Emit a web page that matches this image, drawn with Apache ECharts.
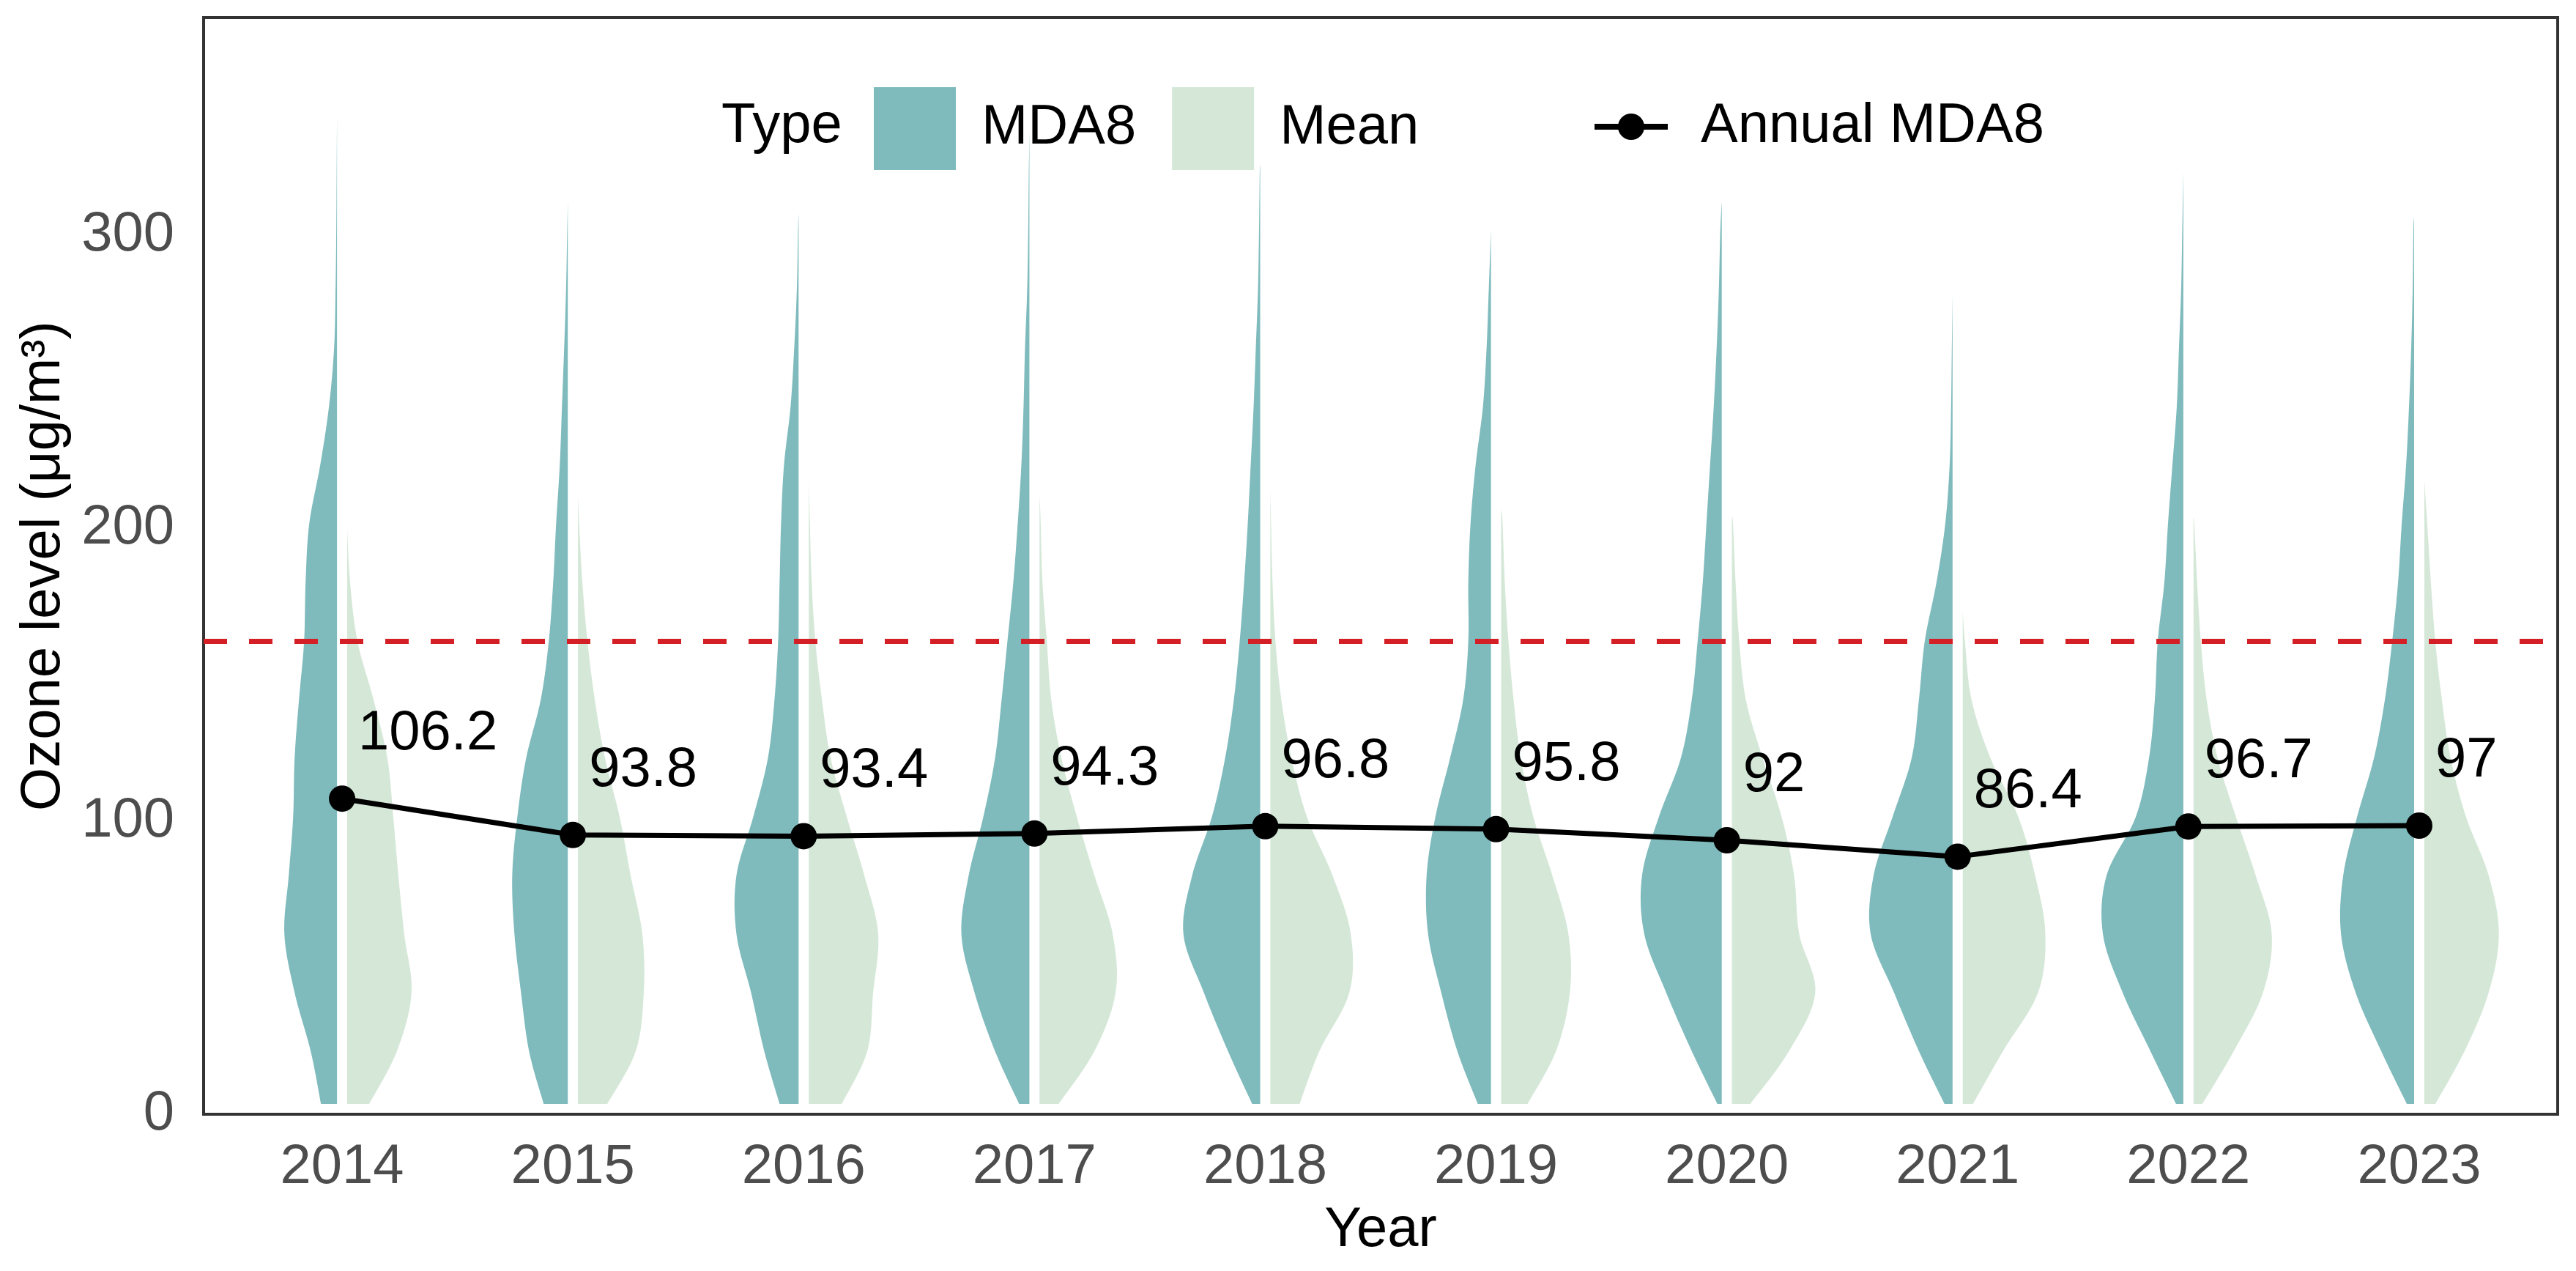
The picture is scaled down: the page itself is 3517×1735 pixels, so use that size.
<!DOCTYPE html>
<html><head><meta charset="utf-8">
<script src="https://cdn.jsdelivr.net/npm/echarts@6/dist/echarts.min.js"></script>
<style>html,body{margin:0;padding:0;background:#fff}#c{width:3517px;height:1735px}</style>
</head><body><div id="c"></div>
<script>
// ---------------- data ----------------
const years = ['2014','2015','2016','2017','2018','2019','2020','2021','2022','2023'];
const annualMDA8 = [106.2, 93.8, 93.4, 94.3, 96.8, 95.8, 92, 86.4, 96.7, 97];
const annualLabels = ['106.2','93.8','93.4','94.3','96.8','95.8','92','86.4','96.7','97'];
const threshold = 160;
const yTicks = [0, 100, 200, 300];
const xTicks = [0,1,2,3,4,5,6,7,8,9];

// ozone levels (µg/m³) at which the violin densities were read
const densityLevels = [2,20,40,60,80,100,120,140,160,180,200,220,240,260,280,300,320,340,360];

// MDA8 density (relative units) per year at densityLevels
const mda8Density = [
  [22,36,58,72,66,60,58,52,45,43,38,23,11,4,2,1,0.5,0.2,0],
  [33,53,64,73,76,69,57,37,26,20,16,11,8,5,2.4,0.8,0,0,0],
  [26,47,65,85,85,62,42,33,28,26,24,20,11,6,2.4,0.8,0,0,0],
  [14,47,75,93,83,63,47,38,30,22,16,11,8,6,3,1.6,0.8,0.3,0],
  [11,44,77,105,93,66,48,36,28,22,17,13,9,6,3,1.6,0.6,0,0],
  [18,46,68,86,88,76,56,38,31,31,28,21,11,6,3,1,0,0,0],
  [6,41,76,106,109,86,56,41,33,26,21,16,11,7,4,2,0.8,0,0],
  [11,46,80,112,108,82,56,46,38,22,10,4,2,1,0,0,0,0,0],
  [10,45,83,110,105,65,47,39,35,26,21,15,9,6,3,1.5,0.5,0,0],
  [10,45,80,100,97,78,55,40,30,22,17,11,7,4,2,1,0,0,0]
];
const mda8Top = [340, 310, 306, 334, 322, 300, 310, 278, 320, 305];

// daily Mean density (relative units) per year at densityLevels
const meanDensity = [
  [30,68,88,78,70,63,55,36,14,4,0.5,0,0,0,0,0,0,0,0],
  [40,79,90,88,72,57,37,23,13,6,1.6,0,0,0,0,0,0,0,0],
  [45,80,88,95,76,52,30,18,9,4,1.5,0,0,0,0,0,0,0,0],
  [26,75,104,100,75,51,30,16,10,4,1.6,0,0,0,0,0,0,0,0],
  [40,67,108,110,85,50,29,15,7,3,1,0,0,0,0,0,0,0,0],
  [36,75,94,92,70,44,27,17,10,5,2,0,0,0,0,0,0,0,0],
  [25,78,114,92,85,68,42,19,10,5,1.5,0,0,0,0,0,0,0,0],
  [14,55,103,113,99,76,38,12,3,0,0,0,0,0,0,0,0,0,0],
  [12,55,95,107,85,58,33,18,10,5,1,0,0,0,0,0,0,0,0],
  [15,55,88,102,88,57,36,24,15,9,4,0,0,0,0,0,0,0,0]
];
const meanTop = [198, 210, 215, 210, 212, 205, 202, 170, 202, 215];

// ---------------- drawing ----------------
const COL_MDA8 = '#7FBBBD';
const COL_MEAN = '#D5E8D8';
const DENS_SCALE = 1 / 315.6;   // density -> category-width units
const GAP = 0.022;              // half gap between the two halves
const FONT = 'Liberation Sans, Arial, Helvetica, sans-serif';

function catmull(pts, steps) {
  const out = [];
  const n = pts.length;
  for (let i = 0; i < n - 1; i++) {
    const p0 = pts[Math.max(0, i - 1)], p1 = pts[i], p2 = pts[i + 1], p3 = pts[Math.min(n - 1, i + 2)];
    for (let s = 0; s < steps; s++) {
      const t = s / steps, t2 = t * t, t3 = t2 * t;
      const f = (a, b, c, d) => 0.5 * ((2 * b) + (-a + c) * t + (2 * a - 5 * b + 4 * c - d) * t2 + (-a + 3 * b - 3 * c + d) * t3);
      out.push([f(p0[0], p1[0], p2[0], p3[0]), f(p0[1], p1[1], p2[1], p3[1])]);
    }
  }
  out.push(pts[n - 1]);
  return out;
}

function makeRender(dens, tops, side, color) {
  return function (params, api) {
    const i = api.value(0);
    const d = dens[i], top = tops[i];
    const raw = [];
    for (let k = 0; k < densityLevels.length; k++) {
      if (densityLevels[k] >= top) break;
      raw.push([densityLevels[k], d[k]]);
    }
    raw.push([top, 0]);
    const edge = raw.map(p => api.coord([i + side * (GAP + p[1] * DENS_SCALE), p[0]]));
    const smooth = catmull(edge, 10);
    const b0 = api.coord([i + side * GAP, densityLevels[0]]);
    const bt = api.coord([i + side * GAP, top]);
    const poly = [b0].concat(smooth).concat([bt]);
    return { type: 'polygon', shape: { points: poly }, style: { fill: color } };
  };
}

const chart = echarts.init(document.getElementById('c'), null, { renderer: 'canvas' });
const idxData = years.map((y, i) => [i]);

chart.setOption({
  animation: false,
  backgroundColor: '#ffffff',
  textStyle: { fontFamily: FONT },
  grid: { left: 278, right: 25, top: 24, bottom: 214, show: true, borderColor: '#333333', borderWidth: 4, containLabel: false },
  graphic: [{
    type: 'text', z: 50,
    style: { text: 'Type', x: 985, y: 173, verticalAlign: 'middle', align: 'left', fill: '#000', font: '76px ' + FONT }
  }],
  legend: [{
    data: ['MDA8', 'Mean'],
    left: 1188, top: 114,
    orient: 'horizontal',
    icon: 'rect',
    itemWidth: 112, itemHeight: 113, itemGap: 49,
    textStyle: { fontSize: 76, color: '#000', padding: [0, 0, 0, 30], fontFamily: FONT },
    selectedMode: false
  }, {
    data: ['Annual MDA8'],
    left: 2168, top: 130,
    itemWidth: 100, itemHeight: 45,
    lineStyle: { width: 8, color: '#000' },
    itemStyle: { color: '#000' },
    textStyle: { fontSize: 76, color: '#000', padding: [0, 0, 0, 40], fontFamily: FONT },
    selectedMode: false
  }],
  xAxis: {
    type: 'value', min: -0.6, max: 9.6,
    axisLine: { show: false }, axisTick: { show: false }, splitLine: { show: false },
    axisLabel: { customValues: xTicks, formatter: v => years[Math.round(v)], fontSize: 76, color: '#4D4D4D', margin: 35, fontFamily: FONT },
    name: 'Year', nameLocation: 'middle', nameGap: 121,
    nameTextStyle: { fontSize: 76, color: '#000', fontFamily: FONT }
  },
  yAxis: {
    type: 'value', min: -1.5, max: 372.75,
    axisLine: { show: false }, axisTick: { show: false }, splitLine: { show: false },
    axisLabel: {
      customValues: yTicks, margin: 40,
      formatter: v => '{t|' + v + '}',
      rich: { t: { fontSize: 76, color: '#4D4D4D', padding: [12, 0, 0, 0], fontFamily: FONT } }
    },
    name: 'Ozone level (μg/m³)', nameLocation: 'middle', nameGap: 180, nameRotate: 90,
    nameTextStyle: { fontSize: 76, color: '#000', fontFamily: FONT }
  },
  series: [
    {
      name: 'MDA8', type: 'custom', z: 2,
      itemStyle: { color: COL_MDA8 },
      renderItem: makeRender(mda8Density, mda8Top, -1, COL_MDA8),
      data: idxData, encode: { x: 0 }, silent: true
    },
    {
      name: 'Mean', type: 'custom', z: 2,
      itemStyle: { color: COL_MEAN },
      renderItem: makeRender(meanDensity, meanTop, 1, COL_MEAN),
      data: idxData, encode: { x: 0 }, silent: true
    },
    {
      name: 'threshold', type: 'line', z: 3, data: [], silent: true,
      markLine: {
        silent: true, symbol: 'none', label: { show: false },
        lineStyle: { color: '#D41F26', width: 7, type: [32, 30] },
        data: [{ yAxis: threshold }]
      }
    },
    {
      name: 'Annual MDA8', type: 'line', z: 5,
      data: annualMDA8.map((v, i) => [i, v]),
      symbol: 'circle', symbolSize: 36,
      lineStyle: { color: '#000', width: 7 },
      itemStyle: { color: '#000' },
      label: {
        show: true, position: 'right', distance: 4, offset: [0, -88],
        formatter: p => annualLabels[p.dataIndex],
        fontSize: 76, color: '#000', fontFamily: FONT
      }
    }
  ]
});
</script>
</body></html>
